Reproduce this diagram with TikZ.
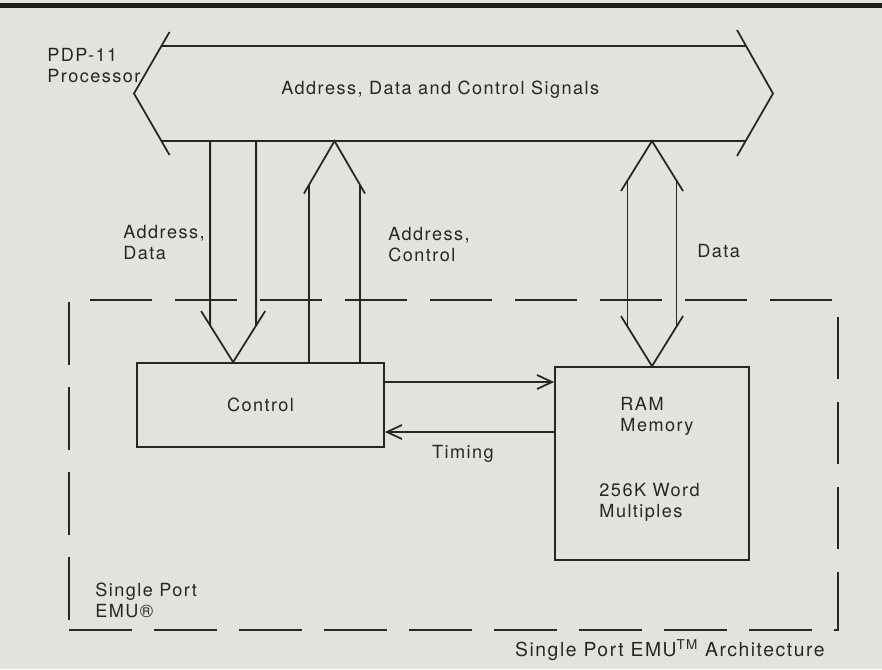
\documentclass[tikz,border=0pt]{standalone}
\usepackage{fontspec}
\setmainfont{TeX Gyre Heros}[LetterSpace=8]
\usetikzlibrary{positioning,calc,arrows.meta}
\definecolor{paper}{RGB}{227,227,222}
\definecolor{ink}{RGB}{38,38,38}
\tikzset{
  ln/.style={draw=ink, line width=1pt},
  box/.style={draw=ink, line width=1pt},
  txt/.style={inner sep=0pt, align=left},
  sig/.style={ink, line width=1pt, -{Straight Barb[length=3mm,width=2.8mm]}},
  emu/.style={draw=ink, line width=1pt, dash pattern=on 12.5mm off 4.5mm}}

\begin{document}
\begin{tikzpicture}[font=\fontsize{10.3}{12}\selectfont, text=ink]
\useasboundingbox (0,0) rectangle (17.64,13.38);
\fill[paper] (0,0) rectangle (17.64,13.38);
\fill[ink!80!black] (0,13.22) rectangle (17.64,13.32);
% bus
\node[minimum width=11.69cm, minimum height=1.9cm, outer sep=0pt] (bus) at (9.075,11.51) {};
\node (bustxt) at ([xshift=-2.7mm,yshift=0.7mm]bus.center) {Address, Data and Control Signals};
\draw[ln] (bus.north west) -- (bus.north east);
\draw[ln] (bus.south west) -- (bus.south east);
\draw[ln] ([shift={(0.16,0.28)}]bus.north west) -- ([xshift=-5.5mm]bus.west) -- ([shift={(0.16,-0.28)}]bus.south west);
\draw[ln] ([shift={(-0.18,0.32)}]bus.north east) -- ([xshift=5.4mm]bus.east) -- ([shift={(-0.18,-0.3)}]bus.south east);
\node[txt, anchor=west] (pdp) at (0.94,12.07) {PDP-11\\Processor};
% boxes
\node[box, minimum width=4.94cm, minimum height=1.68cm] (ctl) at (5.21,5.28) {Control};
\node[box, minimum width=3.88cm, minimum height=3.86cm] (ram) at (13.04,4.11) {};
\node[txt, anchor=west] (ramname) at ([shift={(1.32,-1.01)}]ram.north west) {RAM\\Memory};
\node[txt, anchor=west] (ramsize) at ([shift={(0.90,-2.72)}]ram.north west) {256K Word\\Multiples};
\node[emu, minimum width=15.38cm, minimum height=6.6cm] (emubox) at (9.07,4.08) {};
% address, data down
\coordinate (adtip) at ([xshift=19.4mm]ctl.north west);
\draw[ln] ([xshift=-4.6mm]adtip |- bus.south) -- ([shift={(-0.46,0.73)}]adtip);
\draw[ln] ([xshift=4.6mm]adtip |- bus.south) -- ([shift={(0.46,0.73)}]adtip);
\draw[ln] ([shift={(-0.64,1.02)}]adtip) -- (adtip) -- ([shift={(0.64,1.02)}]adtip);
% address, control up
\coordinate (actip) at ([xshift=34.6mm]bus.south west);
\draw[ln] ([xshift=-5.1mm]actip |- ctl.north) -- ([shift={(-0.51,-0.88)}]actip);
\draw[ln] ([xshift=5.1mm]actip |- ctl.north) -- ([shift={(0.51,-0.88)}]actip);
\draw[ln] ([shift={(-0.61,-1.05)}]actip) -- (actip) -- ([shift={(0.61,-1.05)}]actip);
% data both ways
\coordinate (dtop) at (ram.north |- bus.south);
\coordinate (dbot) at (ram.north);
\draw[ln] ([shift={(-0.49,-0.79)}]dtop) -- ([shift={(-0.49,0.79)}]dbot);
\draw[ln] ([shift={(0.49,-0.79)}]dtop) -- ([shift={(0.49,0.79)}]dbot);
\draw[ln] ([shift={(-0.62,-1.0)}]dtop) -- (dtop) -- ([shift={(0.62,-1.0)}]dtop);
\draw[ln] ([shift={(-0.62,1.0)}]dbot) -- (dbot) -- ([shift={(0.62,1.0)}]dbot);
% control <-> ram
\draw[sig] ([yshift=4.6mm]ctl.east) -- ([yshift=4.6mm]ctl.east -| ram.west);
\draw[sig] ([yshift=-5.4mm]ctl.east -| ram.west) -- ([yshift=-5.4mm]ctl.east);
% labels
\node[txt, anchor=west] (adlbl) at (2.46,8.53) {Address,\\Data};
\node[txt, anchor=west] (aclbl) at (7.76,8.49) {Address,\\Control};
\node[txt, anchor=west] (dlbl) at (13.94,8.36) {Data};
\node[txt] (tlbl) at (9.26,4.30) {Timing};
\node[txt, anchor=west] (splbl) at (1.90,1.38) {Single Port\\EMU®};
\node[txt, anchor=east, font=\fontsize{11}{13}\selectfont] (cap) at (16.50,0.38) {Single Port EMU\textsuperscript{TM} Architecture};
\end{tikzpicture}
\end{document}
